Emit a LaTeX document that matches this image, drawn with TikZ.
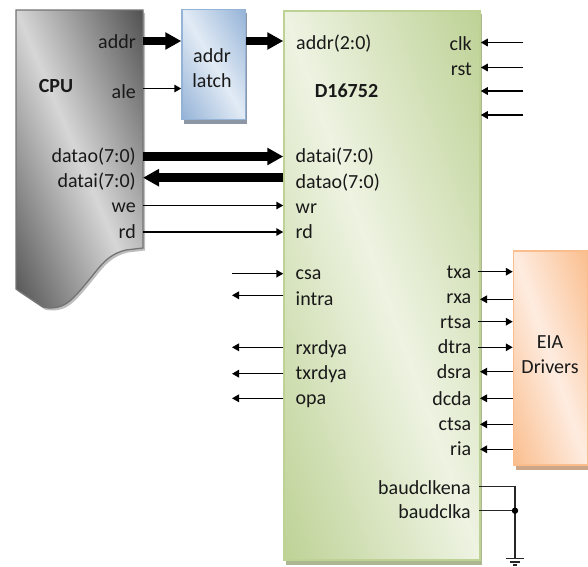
\documentclass[tikz,border=0pt]{standalone}
\usepackage{fontspec}
\setmainfont{Carlito}
\usetikzlibrary{arrows.meta}
\definecolor{bluedark}{RGB}{149,179,215}
\definecolor{bluelight}{RGB}{226,235,245}
\definecolor{greendark}{RGB}{190,210,150}
\definecolor{greenlight}{RGB}{238,243,226}
\definecolor{orangedark}{RGB}{250,190,142}
\definecolor{orangelight}{RGB}{254,236,224}
\definecolor{cpushadow}{RGB}{190,190,190}
\definecolor{blueshadow}{RGB}{140,150,165}
\definecolor{greenshadow}{RGB}{172,182,145}
\definecolor{orangeshadow}{RGB}{205,165,135}
\newcommand{\diaggrad}[6]{% x0,y0,x1,y1,dark,light : bands parallel to the box diagonal
  \shade[transform canvas={cm={(#3-#1)/100,0,0,(#4-#2)/100,(#1,#2)}},
         top color=#5,bottom color=#5,middle color=#6,shading angle=135]
    (-20.7,-20.7) rectangle (120.7,120.7);}
\tikzset{
  x=1pt,y=-1pt,
  lbl/.style={font=\fontsize{20}{22}\selectfont,text=black!90,inner sep=0pt},
  lblr/.style={lbl,anchor=base east},
  lbll/.style={lbl,anchor=base west},
  boldlbl/.style={lbl,font=\fontsize{20}{22}\selectfont\bfseries,anchor=base},
  thin arrow/.style={line width=1.5pt,-{Triangle[length=7pt,width=7.5pt]}},
  bus/.style={line width=8.5pt,-{Triangle[length=16pt,width=16.5pt]}},
  wire/.style={line width=1.3pt,black!85},
  box/.style={inner sep=0pt,line width=1.5pt},
  bluebox/.style={box,minimum width=63.5pt,minimum height=110pt,draw=bluedark},
  greenbox/.style={box,minimum width=196pt,minimum height=549pt,draw=greendark},
  orangebox/.style={box,minimum width=74pt,minimum height=214pt,draw=orangedark},
}
\begin{document}
\begin{tikzpicture}
\useasboundingbox (0,0) rectangle (588,566);
% shadows
\fill[blueshadow] (184,13) rectangle (247,124);
\fill[greenshadow] (286,14) rectangle (481.5,565);
\fill[orangeshadow] (516,254) rectangle (588,470);
\fill[cpushadow] (18,13) -- (145,13) -- (145,250.5) -- (128,252.5)
  .. controls (115,255.5) and (107,262.5) .. (99,272.5)
  .. controls (90,283.5) and (77,300.5) .. (69,305.5)
  .. controls (62,310.5) and (52,311.5) .. (45,309.5)
  -- (18,291.5) -- cycle;
% gradients
\begin{scope}
\clip (16,10) -- (143,10) -- (143,248) -- (126,250)
  .. controls (113,253) and (105,260) .. (97,270)
  .. controls (88,281) and (75,298) .. (67,303)
  .. controls (60,308) and (50,309) .. (43,307)
  -- (16,289) -- cycle;
\diaggrad{16}{10}{143}{310}{black!68}{black!16}
\end{scope}
\begin{scope}
\clip (182,9.5) rectangle (245.5,119.5);
\diaggrad{182}{9.5}{245.5}{119.5}{bluedark}{bluelight}
\end{scope}
\begin{scope}
\clip (284,11) rectangle (480,560);
\diaggrad{284}{11}{480}{560}{greendark}{greenlight}
\end{scope}
\begin{scope}
\clip (513.5,251) rectangle (587.5,465);
\diaggrad{513.5}{251}{587.5}{465}{orangedark}{orangelight}
\end{scope}
% CPU outline
\draw[black!55,line width=1.3pt] (16,10) -- (143,10) -- (143,248) -- (126,250)
  .. controls (113,253) and (105,260) .. (97,270)
  .. controls (88,281) and (75,298) .. (67,303)
  .. controls (60,308) and (50,309) .. (43,307)
  -- (16,289) -- cycle;
% boxes
\node[bluebox] (latch) at (213.75,64.5) {};
\node[greenbox] (uart) at (382,285.5) {};
\node[orangebox] (eia) at (550.5,358) {};
% box texts
\node[lbl,anchor=base] (latcha) at (212,62) {addr};
\node[lbl,anchor=base] (latchb) at (212,87) {latch};
\node[lbl,anchor=base] (eiaa) at (550,348.5) {EIA};
\node[lbl,anchor=base] (eiab) at (550,373.5) {Drivers};
\node[boldlbl] (cpulbl) at (56,92) {CPU};
\node[boldlbl] (uartlbl) at (346.5,97) {D16752};
% CPU ports
\node[lblr] (c1) at (136,48.5) {addr};
\node[lblr] (c2) at (136,98) {ale};
\node[lblr] (c3) at (136,162) {datao(7:0)};
\node[lblr] (c4) at (136,187.5) {datai(7:0)};
\node[lblr] (c5) at (136,212.5) {we};
\node[lblr] (c6) at (136,238) {rd};
% UART left ports
\node[lbll] (u1) at (296,49.5) {addr(2:0)};
\node[lbll] (u2) at (295.5,162.5) {datai(7:0)};
\node[lbll] (u3) at (295.5,188.5) {datao(7:0)};
\node[lbll] (u4) at (295.5,213) {wr};
\node[lbll] (u5) at (295.5,238) {rd};
\node[lbll] (u6) at (295.5,279.5) {csa};
\node[lbll] (u7) at (295.5,305) {intra};
\node[lbll] (u8) at (295.5,354) {rxrdya};
\node[lbll] (u9) at (295.5,379) {txrdya};
\node[lbll] (u10) at (295.5,404) {opa};
% UART right ports
\node[lblr] (r1) at (472,50) {clk};
\node[lblr] (r2) at (472,75) {rst};
\node[lblr] (r3) at (471.5,278) {txa};
\node[lblr] (r4) at (471.5,303.5) {rxa};
\node[lblr] (r5) at (471.5,328.5) {rtsa};
\node[lblr] (r6) at (471.5,353.5) {dtra};
\node[lblr] (r7) at (471.5,378.5) {dsra};
\node[lblr] (r8) at (471.5,405) {dcda};
\node[lblr] (r9) at (471.5,430) {ctsa};
\node[lblr] (r10) at (471.5,455) {ria};
\node[lblr] (r11) at (471,494) {baudclkena};
\node[lblr] (r12) at (471,518.5) {baudclka};
% connector ends
\coordinate (cpuE) at (143,0);
\coordinate (fl) at (232,0);
\coordinate (fr) at (523,0);
\coordinate (jn) at (515,510.7);
\coordinate (gnd) at (515,558);
% thick
\draw[bus] (cpuE|-0,41) -- (latch.west|-0,41);
\draw[bus] (latch.east|-0,41) -- (uart.west|-0,41);
\draw[bus] (cpuE|-0,156.5) -- (uart.west|-0,156.5);
\draw[bus] (uart.west|-0,177.7) -- (cpuE|-0,177.7);
% thin
\draw[thin arrow] (cpuE|-0,88.5) -- (latch.west|-0,88.5);
\draw[thin arrow] (cpuE|-0,205.5) -- (uart.west|-0,205.5);
\draw[thin arrow] (cpuE|-0,232) -- (uart.west|-0,232);
\draw[thin arrow] (fl|-0,273.7) -- (uart.west|-0,273.7);
\draw[thin arrow] (uart.west|-0,295.3) -- (fl|-0,295.3);
\draw[thin arrow] (uart.west|-0,347.3) -- (fl|-0,347.3);
\draw[thin arrow] (uart.west|-0,373.7) -- (fl|-0,373.7);
\draw[thin arrow] (uart.west|-0,398.3) -- (fl|-0,398.3);
\foreach \y in {42.5,67.5,91,115}
  \draw[thin arrow] (fr|-0,\y) -- (uart.east|-0,\y);
\foreach \y in {271.7,321.7,347.3}
  \draw[thin arrow] (478,\y) -- (eia.west|-0,\y);
\foreach \y in {299.3,371.7,398.3,424.3,449.3}
  \draw[thin arrow] (eia.west|-0,\y) -- (480,\y);
% baud clock
\draw[wire] (479,486.7) -| (gnd);
\draw[wire] (479,510.7) -- (jn);
\fill[black] (jn) circle (3.2pt);
\draw[wire] (506,558.3) -- (524,558.3);
\draw[wire] (510,562) -- (520,562);
\draw[wire] (513,565) -- (517,565);
\end{tikzpicture}
\end{document}
